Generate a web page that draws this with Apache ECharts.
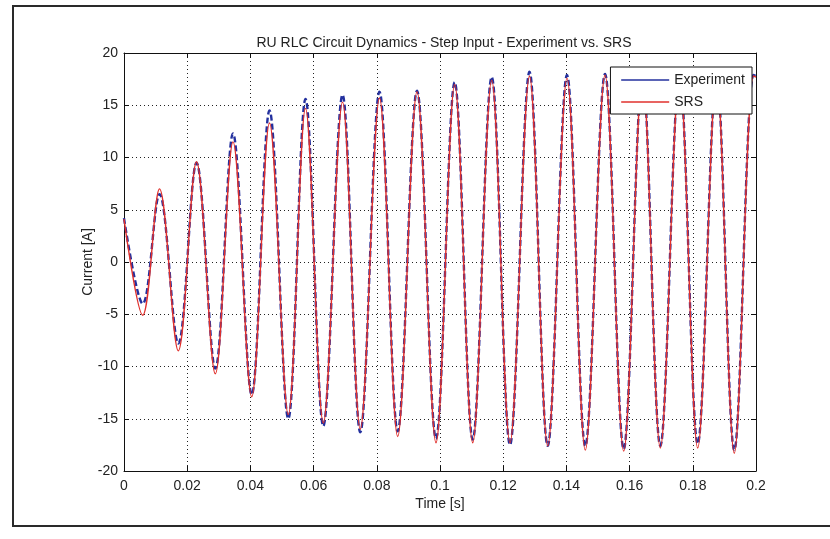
<!DOCTYPE html>
<html>
<head>
<meta charset="utf-8">
<script src="https://cdn.jsdelivr.net/npm/echarts@6/dist/echarts.min.js"></script>
<style>
html,body{margin:0;padding:0;background:#fff;}
#chart{width:830px;height:539px;}
</style>
</head>
<body>
<div id="chart"></div>
<script>
// Time of each sample (s): start, then alternating troughs / peaks
const time = [0,
  0.00592, 0.01123, 0.01718, 0.02294, 0.02889, 0.03449, 0.04041, 0.04604,
  0.05199, 0.05744, 0.06307, 0.06915, 0.07478, 0.08085, 0.08661, 0.09272,
  0.09873, 0.10465, 0.11035, 0.11636, 0.12215, 0.12832, 0.13408, 0.14019,
  0.14598, 0.15222, 0.15813, 0.16408, 0.16972, 0.17579, 0.18155, 0.18750,
  0.19313, 0.19921, 0.2];
// Experiment current (A)
const experiment = [4.2,
  -4.0, 6.5, -7.8, 9.5, -10.2, 12.3, -12.7, 14.5,
  -15.0, 15.6, -15.7, 16.0, -16.3, 16.3, -16.2, 16.4,
  -16.9, 17.2, -17.0, 17.7, -17.5, 18.2, -17.6, 17.9,
  -17.6, 18.0, -17.9, 18.0, -17.6, 18.0, -17.4, 17.9,
  -18.0, 17.9, 17.8];
// SRS current (A)
const srs = [4.1,
  -5.1, 7.0, -8.5, 9.6, -10.7, 11.5, -12.9, 13.3,
  -14.6, 14.7, -15.4, 15.3, -16.0, 15.7, -16.7, 16.3,
  -17.3, 17.0, -17.3, 17.4, -17.3, 17.8, -17.6, 17.6,
  -18.0, 17.9, -18.1, 17.9, -17.8, 17.9, -17.8, 17.8,
  -18.3, 17.8, 17.7];
const seriesNames = ['Experiment', 'SRS'];
const titleText = 'RU RLC Circuit Dynamics - Step Input - Experiment vs. SRS';
const xName = 'Time [s]';
const yName = 'Current [A]';

const pair = arr => time.map((t, i) => [t, arr[i]]);
const FONT = '"Liberation Sans", Arial, sans-serif';
const chart = echarts.init(document.getElementById('chart'));

const gridLine = {show: true, lineStyle: {color: '#222', type: [1, 3], width: 1}};
const axisLine = {show: true, onZero: false, lineStyle: {color: '#111', width: 1}};
const tick = {show: true, inside: true, length: 5, lineStyle: {color: '#111'}};

chart.setOption({
  animation: false,
  backgroundColor: '#fff',
  textStyle: {fontFamily: FONT},
  title: {
    text: titleText, left: 439, top: 31, textAlign: 'center',
    textStyle: {fontSize: 14, fontWeight: 'normal', color: '#222', fontFamily: FONT}
  },
  graphic: [{
    type: 'rect', shape: {x: 13, y: 6, width: 850, height: 520},
    style: {fill: 'none', stroke: '#2a2a2a', lineWidth: 2}, silent: true, z: -1
  }],
  grid: {left: 124, right: 74, top: 53, bottom: 68},
  legend: {
    data: seriesNames, orient: 'vertical', right: 78, top: 67, z: 20,
    backgroundColor: '#fff', borderColor: '#111', borderWidth: 1,
    padding: [6, 7, 5, 10], itemGap: 8, itemWidth: 48, itemHeight: 14,
    itemStyle: {opacity: 0, borderWidth: 0},
    lineStyle: {type: 'solid', width: 1.5, opacity: 1},
    textStyle: {fontSize: 14, color: '#222', fontFamily: FONT}
  },
  xAxis: [{
    type: 'value', min: 0, max: 0.2, interval: 0.02,
    name: xName, nameLocation: 'middle', nameGap: 26, nameMoveOverlap: false,
    nameTextStyle: {fontSize: 14, color: '#222'},
    axisLine: axisLine, axisTick: tick, splitLine: gridLine,
    axisLabel: {fontSize: 14, color: '#222', margin: 8}
  }, {
    type: 'value', position: 'top', min: 0, max: 0.2, interval: 0.02,
    axisLine: axisLine, axisTick: tick, splitLine: {show: false}, axisLabel: {show: false}
  }],
  yAxis: [{
    type: 'value', min: -20, max: 20, interval: 5,
    name: yName, nameLocation: 'middle', nameGap: 29, nameMoveOverlap: false,
    nameTextStyle: {fontSize: 14, color: '#222'},
    axisLine: axisLine, axisTick: tick, splitLine: gridLine,
    axisLabel: {fontSize: 14, color: '#222', margin: 6}
  }, {
    type: 'value', position: 'right', min: -20, max: 20, interval: 5,
    axisLine: axisLine, axisTick: tick, splitLine: {show: false}, axisLabel: {show: false}
  }],
  series: [{
    name: seriesNames[0], type: 'line', data: pair(experiment),
    showSymbol: false, symbol: 'none', smooth: 0.36, z: 2,
    lineStyle: {color: '#23309e', width: 2.4, type: [6, 3]},
    itemStyle: {color: '#2f3fb0'}
  }, {
    name: seriesNames[1], type: 'line', data: pair(srs),
    showSymbol: false, symbol: 'none', smooth: 0.36, z: 3,
    lineStyle: {color: '#e0302c', width: 1.4},
    itemStyle: {color: '#d9363a'}
  }]
});
</script>
</body>
</html>
